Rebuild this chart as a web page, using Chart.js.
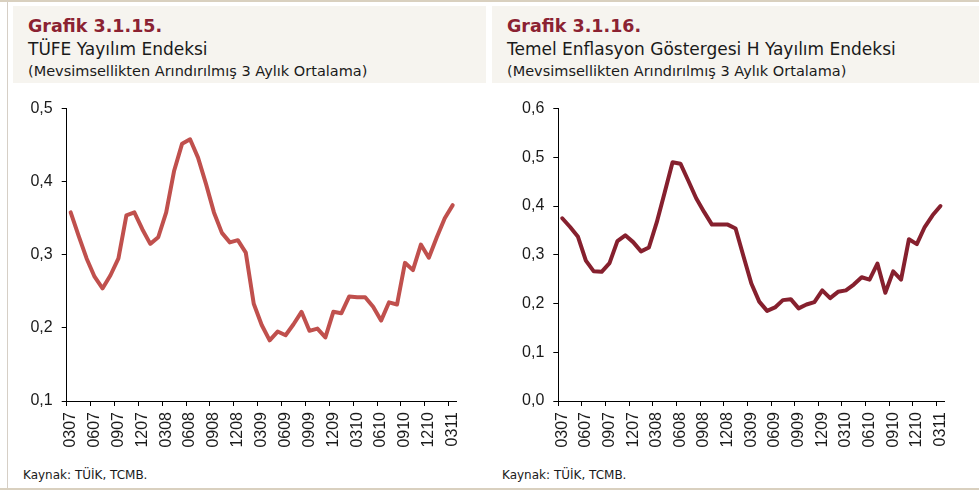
<!DOCTYPE html>
<html>
<head>
<meta charset="utf-8">
<script src="https://cdn.jsdelivr.net/npm/chart.js@4.4.1/dist/chart.umd.min.js"></script>
<style>
  body{margin:0;width:979px;height:490px;background:#fff;position:relative;overflow:hidden;font-family:"DejaVu Sans",sans-serif;}
  .line{position:absolute;background:#d9d0bf;}
  .head{position:absolute;top:6px;height:77px;background:#f6f4ef;}
  .t1{position:absolute;top:16px;font-weight:bold;font-size:17.5px;color:#8b2232;}
  .t2{position:absolute;top:39px;font-size:17px;color:#1a1a1a;}
  .t3{position:absolute;top:63px;font-size:14.5px;color:#1a1a1a;}
  .src{position:absolute;top:468px;font-size:12px;color:#1a1a1a;}
  .box{position:absolute;top:90px;height:380px;}
</style>
</head>
<body>
<div class="line" style="left:0;top:0;width:979px;height:2px"></div>
<div class="line" style="left:7px;top:0;width:1px;height:490px;background:#d6cfc6"></div>
<div class="line" style="left:0;top:488px;width:979px;height:2px"></div>

<div class="head" style="left:13px;width:473px"></div>
<div class="head" style="left:492px;width:487px"></div>

<div class="t1" style="left:28px">Grafik 3.1.15.</div>
<div class="t2" style="left:28px">TÜFE Yayılım Endeksi</div>
<div class="t3" style="left:28px">(Mevsimsellikten Arındırılmış 3 Aylık Ortalama)</div>

<div class="t1" style="left:507px">Grafik 3.1.16.</div>
<div class="t2" style="left:507px">Temel Enflasyon Göstergesi H Yayılım Endeksi</div>
<div class="t3" style="left:507px">(Mevsimsellikten Arındırılmış 3 Aylık Ortalama)</div>

<div class="src" style="left:23px">Kaynak: TÜİK, TCMB.</div>
<div class="src" style="left:502px">Kaynak: TÜİK, TCMB.</div>

<div class="box" style="left:0;width:490px"><canvas id="c1"></canvas></div>
<div class="box" style="left:490px;width:489px"><canvas id="c2"></canvas></div>

<script>
// ===== DATA =====
const months = [
  "0307","0407","0507","0607","0707","0807","0907","1007","1107","1207",
  "0108","0208","0308","0408","0508","0608","0708","0808","0908","1008","1108","1208",
  "0109","0209","0309","0409","0509","0609","0709","0809","0909","1009","1109","1209",
  "0110","0210","0310","0410","0510","0610","0710","0810","0910","1010","1110","1210",
  "0111","0211","0311"
];

const tufe = [
  0.358,0.326,0.295,0.270,0.254,0.272,0.295,0.354,0.358,0.335,
  0.315,0.324,0.358,0.415,0.452,0.458,0.433,0.397,0.358,0.330,
  0.317,0.320,0.303,0.233,0.204,0.183,0.195,0.190,0.205,0.222,
  0.196,0.199,0.187,0.222,0.220,0.243,0.242,0.242,0.229,0.210,
  0.235,0.232,0.289,0.279,0.314,0.296,0.324,0.350,0.368
];

const temelH = [
  0.375,0.357,0.337,0.288,0.266,0.265,0.283,0.328,0.340,0.326,
  0.307,0.315,0.367,0.428,0.490,0.487,0.452,0.416,0.388,0.362,
  0.362,0.362,0.354,0.297,0.241,0.204,0.185,0.192,0.207,0.209,
  0.190,0.198,0.203,0.227,0.211,0.224,0.227,0.239,0.254,0.249,
  0.282,0.222,0.266,0.249,0.332,0.322,0.357,0.381,0.400
];

// every 3rd month gets a label and a tick mark
const labelStep = 3;

// ===== CHART =====
function makeChart(id, data, color, yMin, yMax, pad, yWidth){
  const ctx = document.getElementById(id).getContext("2d");
  return new Chart(ctx,{
    type:"line",
    data:{
      labels: months,
      datasets:[{
        data:data,
        borderColor:color,
        borderWidth:4,
        pointRadius:0,
        tension:0,
        borderJoinStyle:"round",
        borderCapStyle:"round",
        fill:false
      }]
    },
    options:{
      responsive:true,
      maintainAspectRatio:false,
      animation:false,
      layout:{padding:pad},
      plugins:{legend:{display:false},tooltip:{enabled:false}},
      scales:{
        x:{
          offset:true,
          afterFit:(s)=>{ s.height = 69; },
          grid:{
            offset:true,
            drawOnChartArea:false,
            tickLength:5,
            color:(c)=> (c.index % labelStep === 0 && c.index < months.length) ? "#000" : "rgba(0,0,0,0)"
          },
          border:{color:"#000",width:1},
          ticks:{
            autoSkip:false,
            minRotation:90,
            maxRotation:90,
            padding:6,
            color:"#1a1a1a",
            font:{family:"Liberation Sans",size:16},
            callback:(v,i)=> i % labelStep === 0 ? months[i] : ""
          }
        },
        y:{
          min:yMin,
          max:yMax,
          afterFit:(s)=>{ s.width = yWidth; },
          grid:{drawOnChartArea:false,tickLength:5,color:"#000"},
          border:{color:"#000",width:1},
          ticks:{
            stepSize:0.1,
            padding:9,
            color:"#1a1a1a",
            font:{family:"Liberation Sans",size:16},
            callback:(v)=> v.toFixed(1).replace(".",",")
          }
        }
      }
    }
  });
}

makeChart("c1", tufe, "#c0504d", 0.1, 0.5, {top:17.7,right:33.3,bottom:0,left:0}, 66.7);
makeChart("c2", temelH, "#86202e", 0, 0.6, {top:13.3,right:34.6,bottom:0,left:0}, 68.3);
</script>
</body>
</html>
